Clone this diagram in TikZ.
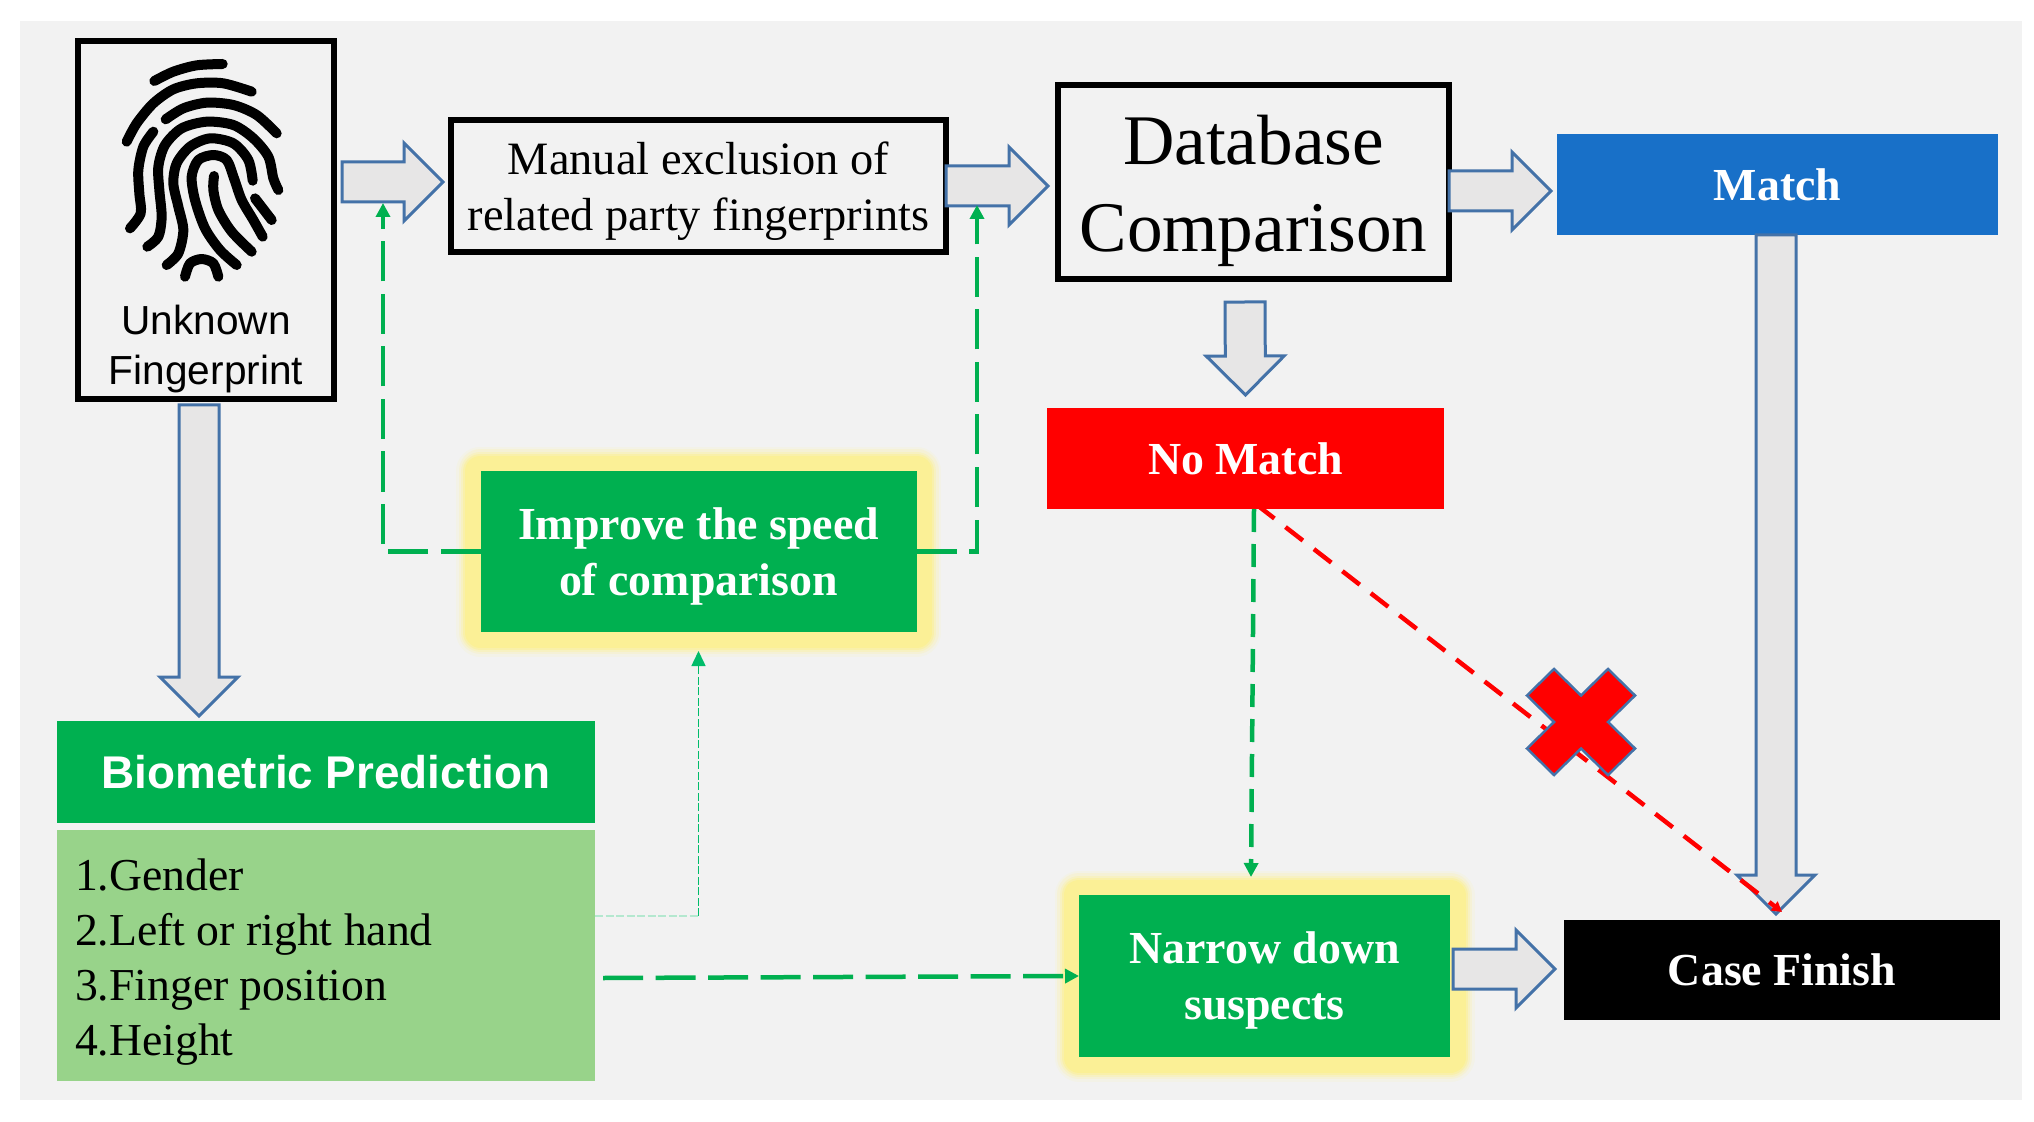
\documentclass[tikz,border=0pt]{standalone}
\usepackage{fontspec}
\setmainfont{Liberation Serif}
\setsansfont{Liberation Sans}
\usetikzlibrary{arrows.meta, calc, positioning}

\definecolor{panelgray}{HTML}{F2F2F2}
\definecolor{arrowgray}{HTML}{E7E6E6}
\definecolor{arrowblue}{HTML}{4472A8}
\definecolor{matchblue}{HTML}{1870C8}
\definecolor{goodgreen}{HTML}{00B050}
\definecolor{listgreen}{HTML}{98D38A}
\definecolor{palegreen}{HTML}{B4E8CF}
\definecolor{glowyellow}{HTML}{FBF096}

\begin{document}
\begin{tikzpicture}[
    frame/.style={draw=black, line width=0.12cm, outer sep=0pt, inner sep=0pt, align=center, font=\fontsize{26.4}{32}\selectfont},
    bigframe/.style={frame, font=\fontsize{40.5}{50}\selectfont},
    solidbox/.style={outer sep=0pt, inner sep=0pt, align=center, text=white, font=\bfseries\fontsize{26.1}{32}\selectfont},
    glowbox/.style={solidbox, fill=goodgreen, text height=1.95cm,
      preaction={draw=glowyellow!12!panelgray, line width=0.98cm, line join=round},
      preaction={draw=glowyellow!30!panelgray, line width=0.88cm, line join=round},
      preaction={draw=glowyellow!52!panelgray, line width=0.78cm, line join=round},
      preaction={draw=glowyellow!78!panelgray, line width=0.70cm, line join=round},
      preaction={draw=glowyellow, line width=0.62cm, line join=round}},
    sanstext/.style={align=center, inner sep=0pt, font=\sffamily\fontsize{23.1}{28.5}\selectfont},
    blockarrow/.style={draw=arrowblue, fill=arrowgray, line width=0.06cm, to path={
      let \p1=($(\tikztotarget)!0.78cm!(\tikztostart)$) in
      ($(\tikztostart)!0.40cm!90:(\tikztotarget)$)
      -- ($(\p1)!0.40cm!90:(\tikztotarget)$)
      -- ($(\p1)!0.78cm!90:(\tikztotarget)$)
      -- (\tikztotarget)
      -- ($(\p1)!0.78cm!-90:(\tikztotarget)$)
      -- ($(\p1)!0.40cm!-90:(\tikztotarget)$)
      -- ($(\tikztostart)!0.40cm!-90:(\tikztotarget)$)
      -- cycle}},
    dashline/.style={draw=goodgreen, line width=0.09cm, dash pattern=on 0.80cm off 0.25cm, -{Triangle[length=0.28cm, width=0.28cm]}},
    shortdash/.style={dashline, dash pattern=on 0.46cm off 0.24cm},
    thindash/.style={draw=goodgreen!85!cyan, line width=0.03cm, dash pattern=on 0.16cm off 0.05cm},
    reddash/.style={draw=red, line width=0.09cm, dash pattern=on 0.44cm off 0.28cm, -{Triangle[length=0.20cm, width=0.22cm]}},
    ridge/.style={line width=0.20cm, line cap=round, line join=round}
    ]
    \useasboundingbox (0,0) rectangle (40.68,-22.44);
    \fill[panelgray] (0.40,-0.42) rectangle (40.44,-22.00);

    \node[frame, minimum width=5.12cm, minimum height=7.16cm] (unk) at (4.12,-4.40) {};
    \node[sanstext] (unklabel) [above=0.12 of unk.south] {Unknown\\Fingerprint};

    \node[frame, minimum width=9.90cm, minimum height=2.64cm, text height=1.99cm] (manual) [right=2.34 of unk, yshift=0.68cm] {Manual exclusion of\\related party fingerprints};
    \node[bigframe, minimum width=7.82cm, minimum height=3.88cm, text height=3.10cm] (db) [right=2.24 of manual, yshift=0.08cm] {Database\\Comparison};
    \node[solidbox, fill=matchblue, minimum width=8.82cm, minimum height=2.02cm] (match) [right=2.16 of db, yshift=-0.05cm] {Match};
    \node[solidbox, fill=red, minimum width=7.94cm, minimum height=2.02cm] (nomatch) [below=2.58 of db, xshift=-0.16cm] {No Match};

    \node[glowbox, minimum width=8.72cm, minimum height=3.22cm] (improve) [below=4.38 of manual] {Improve the speed\\of comparison};

    \node[solidbox, fill=goodgreen, minimum width=10.76cm, minimum height=2.04cm, font=\sffamily\bfseries\fontsize{26.1}{32}\selectfont] (biohead) [below=6.44 of unk, xshift=2.40cm] {Biometric Prediction};
    \node[fill=listgreen, outer sep=0pt, inner xsep=0.36cm, inner ysep=0pt, text width=10.04cm, text height=0.88cm, minimum height=5.02cm, align=flush left, font=\fontsize{26}{31.3}\selectfont] (biolist) [below=0.14 of biohead] {1.Gender\\2.Left or right hand\\3.Finger position\\4.Height};

    \node[glowbox, minimum width=7.42cm, minimum height=3.24cm] (narrow) [below=7.72 of nomatch, xshift=0.38cm] {Narrow down\\suspects};
    \node[solidbox, fill=black, minimum width=8.72cm, minimum height=2.00cm] (case) [right=2.28 of narrow, yshift=0.12cm] {Case Finish};

    \begin{scope}[shift={(unk.center)}, shift={(-1.92,3.40)}, x=0.00667cm, y=-0.00667cm]
      \draw[ridge] plot[smooth] coordinates {(133,93) (190,65) (260,46) (338,42)};
      \draw[ridge] plot[smooth] coordinates {(50,275) (80,220) (130,160) (190,118) (260,100) (340,100) (425,125)};
      \draw[ridge] plot[smooth] coordinates {(167,208) (220,175) (290,158) (370,165) (440,195) (500,250)};
      \draw[ridge] plot[smooth] coordinates {(130,245) (100,290) (85,360) (88,430) (92,490) (60,535)};
      \draw[ridge] plot[smooth] coordinates {(112,590) (145,560) (155,500) (148,420) (145,350) (165,285) (215,235) (290,215) (370,225) (430,265) (475,320) (490,385) (505,420)};
      \draw[ridge] plot[smooth] coordinates {(170,645) (205,610) (220,540) (205,470) (190,400) (200,340) (240,290) (300,265) (370,280) (415,330) (428,392)};
      \draw[ridge] plot[smooth] coordinates {(380,645) (330,600) (285,535) (255,450) (245,380) (265,330) (310,315) (350,330) (372,385) (395,450) (430,510) (458,560)};
      \draw[ridge] plot[smooth] coordinates {(425,605) (365,545) (325,480) (310,420) (312,378)};
      \draw[ridge] plot[smooth] coordinates {(435,445) (485,510)};
      \draw[ridge] plot[smooth] coordinates {(225,680) (240,640) (275,627) (310,640) (325,680)};
    \end{scope}

    \draw[blockarrow] ([xshift=0.16cm, yshift=0.76cm]unk.east) to ([xshift=-0.16cm, yshift=0.08cm]manual.west);
    \draw[blockarrow] (manual.east) to ([xshift=-0.20cm, yshift=-0.08cm]db.west);
    \draw[blockarrow] ([yshift=-0.18cm]db.east) to ([xshift=-0.12cm, yshift=-0.13cm]match.west);
    \draw[blockarrow] ([xshift=-0.17cm, yshift=-0.46cm]db.south) to ([yshift=0.26cm]nomatch.north);
    \draw[blockarrow] ([xshift=-0.03cm]match.south) to ([xshift=-0.12cm, yshift=0.12cm]case.north);
    \draw[blockarrow] ([xshift=-0.14cm, yshift=-0.12cm]unk.south) to ([xshift=-2.54cm, yshift=0.10cm]biohead.north);
    \draw[blockarrow] ([xshift=0.06cm, yshift=0.14cm]narrow.east) to ([xshift=-0.18cm, yshift=0.02cm]case.west);

    \path[dashline] (improve.west) -| ([xshift=-1.36cm, yshift=-0.34cm]manual.west);
    \path[dashline] (improve.east) -| ([xshift=0.62cm, yshift=-0.38cm]manual.east);
    \path[dashline] ([xshift=0.16cm, yshift=-0.45cm]biolist.east) -- (narrow.west);
    \path[shortdash] ([xshift=0.17cm]nomatch.south) -- ([xshift=-0.27cm, yshift=0.36cm]narrow.north);

    \coordinate (thinstart) at ([yshift=0.79cm]biolist.east);
    \coordinate (thincorner) at (thinstart -| improve.south);
    \path[thindash, draw=palegreen] (thinstart) -- (thincorner);
    \path[thindash, -{Triangle[length=0.30cm, width=0.28cm]}] (thincorner) -- ([yshift=-0.38cm]improve.south);

    \path[reddash] ([xshift=0.23cm, yshift=0.08cm]nomatch.south) -- ([yshift=0.16cm]case.north);

    \coordinate (nomark) at (31.62,-14.44);
    \draw[shift={(nomark)}, x=1.08cm, y=1.06cm, draw=arrowblue, fill=red, line width=0.05cm]
      (-0.5,1) -- (0,0.5) -- (0.5,1) -- (1,0.5) -- (0.5,0) -- (1,-0.5)
      -- (0.5,-1) -- (0,-0.5) -- (-0.5,-1) -- (-1,-0.5) -- (-0.5,0) -- (-1,0.5) -- cycle;
  \end{tikzpicture}
\end{document}
